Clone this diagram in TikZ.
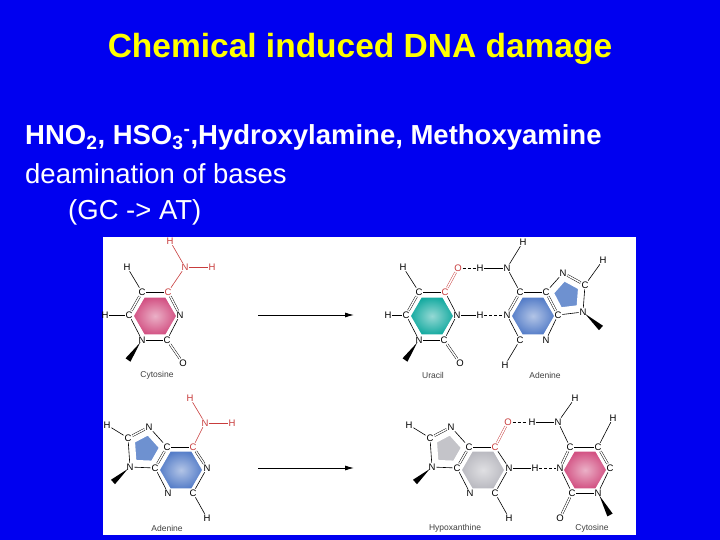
\documentclass[tikz,border=0pt]{standalone}
\usepackage{fontspec}
\setmainfont{Liberation Sans}
\usetikzlibrary{shapes.geometric,calc,arrows.meta}
\definecolor{slideblue}{RGB}{0,0,240}
\definecolor{ttl}{RGB}{255,255,0}
\definecolor{atomred}{RGB}{200,60,60}
\definecolor{cpink}{RGB}{210,80,130}
\definecolor{cteal}{RGB}{20,170,160}
\definecolor{cblue}{RGB}{85,125,200}
\definecolor{cgrey}{RGB}{185,185,192}
\tikzset{
 atom/.style={font=\fontsize{9.5}{10}\selectfont, inner sep=0.8pt, text=black},
 ratom/.style={atom, text=atomred},
 bond/.style={draw, line width=0.6pt},
 rbond/.style={bond, draw=atomred},
 dbl/.style={draw, double, double distance=1.5pt, line width=0.45pt},
 rdbl/.style={dbl, draw=atomred},
 hb/.style={draw, densely dashed, line width=0.5pt},
 hexfill/.style={regular polygon, regular polygon sides=6, minimum size=44pt, draw=white, line width=1.5pt, inner sep=0pt},
 lbl/.style={font=\fontsize{8.5}{9}\selectfont, text=black!75},
 rxn/.style={draw, line width=0.9pt, -{Latex[length=9pt,width=5pt]}},
}
\newcommand{\wedgeto}[2]{\fill ($(#1)!3pt!(#2)$) -- ($(#2)!3pt!90:(#1)$) -- ($(#2)!3pt!-90:(#1)$) -- cycle;}
\begin{document}
\begin{tikzpicture}[x=1pt,y=-1pt]
\fill[slideblue] (0,0) rectangle (720,540);
\useasboundingbox (0,0) rectangle (720,540);
\node[text=ttl, font=\fontsize{33.5}{36}\selectfont\bfseries] (title) at (360,49) {Chemical induced DNA damage};
\node[text=white, font=\fontsize{27.5}{30}\selectfont\bfseries, anchor=base west, inner sep=0] (l1) at (25,145) {HNO\textsubscript{2}, HSO\textsubscript{3}\textsuperscript{-},Hydroxylamine, Methoxyamine};
\node[text=white, font=\fontsize{27.5}{30}\selectfont, anchor=base west, inner sep=0] (l2) at (25,184) {deamination of bases};
\node[text=white, font=\fontsize{27.5}{30}\selectfont, anchor=base west, inner sep=0] (l3) at (68,220) {(GC -> AT)};
\fill[white] (103,237) rectangle (636,535);

% fills
\node[hexfill, inner color=cpink!45, outer color=cpink] (f1) at (155,316) {};
\node[hexfill, inner color=cteal!45, outer color=cteal] (f2) at (432,316) {};
\node[hexfill, inner color=cblue!45, outer color=cblue] (f3) at (533,316) {};
\node[hexfill, inner color=cblue!45, outer color=cblue] (f4) at (181,470) {};
\node[hexfill, inner color=cgrey!45, outer color=cgrey] (f5) at (483,470) {};
\node[hexfill, inner color=cpink!45, outer color=cpink] (f6) at (585,470) {};

% ===== Cytosine (top)
\node[atom] (c1) at (142,292) {C}; \node[ratom] (c2) at (168,292) {C};
\node[atom] (c3) at (180,315) {N}; \node[atom] (c4) at (167,340) {C};
\node[atom] (c5) at (142,340) {N}; \node[atom] (c6) at (129,315) {C};
\node[atom] (c6h) at (105,315) {H}; \node[atom] (c1h) at (127,267) {H};
\node[ratom] (cna) at (185,267) {N}; \node[ratom] (cha) at (212,267) {H};
\node[ratom] (chb) at (170,241) {H}; \node[atom] (co) at (183,363) {O};
\coordinate (cw) at (128,360);
\path[dbl] (c1)--(c6); \path[bond] (c1)--(c2); \path[dbl] (c2)--(c3);
\path[bond] (c3)--(c4); \path[bond] (c4)--(c5); \path[bond] (c5)--(c6);
\path[dbl] (c4)--(co); \path[bond] (c6)--(c6h); \path[bond] (c1)--(c1h);
\path[rbond] (c2)--(cna); \path[rbond] (cna)--(cha); \path[rbond] (cna)--(chb);
\wedgeto{c5}{cw}
\node[lbl] (lc) at (157,375) {Cytosine};

\coordinate (ar1a) at (258,315); \coordinate (ar1b) at (354,315);
\path[rxn] (ar1a)--(ar1b);

% ===== Uracil
\node[atom] (u1) at (419,292) {C}; \node[ratom] (u2) at (445,292) {C};
\node[atom] (u3) at (457,315) {N}; \node[atom] (u4) at (444,340) {C};
\node[atom] (u5) at (419,340) {N}; \node[atom] (u6) at (406,315) {C};
\node[atom] (u6h) at (388,315) {H}; \node[atom] (u1h) at (403,267) {H};
\node[ratom] (uo) at (458,268) {O}; \node[atom] (u3h) at (480,315) {H};
\node[atom] (uo2) at (460,363) {O};
\coordinate (uw) at (405,360);
\path[dbl] (u1)--(u6); \path[bond] (u1)--(u2); \path[rdbl] (u2)--(uo);
\path[bond] (u2)--(u3); \path[bond] (u3)--(u4); \path[bond] (u4)--(u5);
\path[bond] (u5)--(u6); \path[dbl] (u4)--(uo2); \path[bond] (u6)--(u6h);
\path[bond] (u1)--(u1h); \path[bond] (u3)--(u3h);
\wedgeto{u5}{uw}
\node[lbl] (lu) at (433,375) {Uracil};

% ===== Adenine (top)
\node[atom] (a1) at (507,315) {N}; \node[atom] (a2) at (520,292) {C};
\node[atom] (a3) at (546,292) {C}; \node[atom] (a4) at (558,315) {C};
\node[atom] (a5) at (546,340) {N}; \node[atom] (a6) at (520,340) {C};
\node[atom] (a6h) at (505,365) {H};
\node[atom] (ana) at (507,268) {N}; \node[atom] (aha) at (480,268) {H};
\node[atom] (ahb) at (523,242) {H};
\node[atom] (p1) at (563,273) {N}; \node[atom] (p2) at (585,285) {C};
\node[atom] (p3) at (583,312) {N}; \node[atom] (p2h) at (603,260) {H};
\coordinate (aw) at (601,328);
\fill[cblue!85, draw=white, line width=1.5pt] ($(567,295)!.65!(a3)$) -- ($(567,295)!.65!(p1)$) -- ($(567,295)!.65!(p2)$) -- ($(567,295)!.65!(p3)$) -- ($(567,295)!.65!(a4)$) -- cycle;
\path[dbl] (a1)--(a2); \path[bond] (a2)--(a3); \path[dbl] (a3)--(a4);
\path[bond] (a4)--(a5); \path[dbl] (a5)--(a6); \path[bond] (a6)--(a1);
\path[bond] (a6)--(a6h); \path[bond] (a2)--(ana); \path[bond] (ana)--(aha);
\path[bond] (ana)--(ahb); \path[bond] (a3)--(p1); \path[dbl] (p1)--(p2);
\path[bond] (p2)--(p3); \path[bond] (p3)--(a4); \path[bond] (p2)--(p2h);
\path[hb] (uo)--(aha); \path[hb] (u3h)--(a1);
\wedgeto{p3}{aw}
\node[lbl] (la) at (545,375) {Adenine};

% ===== Adenine (bottom)
\node[atom] (b1) at (167,447) {C}; \node[ratom] (b2) at (193,447) {C};
\node[atom] (b3) at (207,468) {N}; \node[atom] (b4) at (193,493) {C};
\node[atom] (b5) at (168,493) {N}; \node[atom] (b6) at (155,468) {C};
\node[atom] (q1) at (149,427) {N}; \node[atom] (q2) at (128,438) {C};
\node[atom] (q3) at (130,467) {N}; \node[atom] (q2h) at (107,425) {H};
\node[ratom] (bna) at (205,423) {N}; \node[ratom] (bha) at (232,423) {H};
\node[ratom] (bhb) at (190,398) {H}; \node[atom] (b4h) at (207,518) {H};
\coordinate (bw) at (113,482);
\fill[cblue!85, draw=white, line width=1.5pt] ($(146,449)!.65!(b1)$) -- ($(146,449)!.65!(q1)$) -- ($(146,449)!.65!(q2)$) -- ($(146,449)!.65!(q3)$) -- ($(146,449)!.65!(b6)$) -- cycle;
\path[bond] (b1)--(b2); \path[dbl] (b2)--(b3); \path[bond] (b3)--(b4);
\path[dbl] (b4)--(b5); \path[bond] (b5)--(b6); \path[dbl] (b6)--(b1);
\path[bond] (b1)--(q1); \path[dbl] (q1)--(q2); \path[bond] (q2)--(q3);
\path[bond] (q3)--(b6); \path[bond] (q2)--(q2h); \path[rbond] (b2)--(bna);
\path[rbond] (bna)--(bha); \path[rbond] (bna)--(bhb); \path[bond] (b4)--(b4h);
\wedgeto{q3}{bw}
\node[lbl] (lb) at (167,528) {Adenine};

\coordinate (ar2a) at (258,468); \coordinate (ar2b) at (354,468);
\path[rxn] (ar2a)--(ar2b);

% ===== Hypoxanthine
\node[atom] (h1) at (469,447) {C}; \node[ratom] (h2) at (495,447) {C};
\node[atom] (h3) at (509,468) {N}; \node[atom] (h4) at (495,493) {C};
\node[atom] (h5) at (470,493) {N}; \node[atom] (h6) at (457,468) {C};
\node[atom] (r1) at (451,427) {N}; \node[atom] (r2) at (430,438) {C};
\node[atom] (r3) at (432,467) {N}; \node[atom] (r2h) at (409,425) {H};
\node[ratom] (ho) at (508,422) {O}; \node[atom] (h4h) at (509,518) {H};
\node[atom] (h3h) at (535,468) {H};
\coordinate (hw) at (415,482);
\fill[cgrey!85, draw=white, line width=1.5pt] ($(448,449)!.65!(h1)$) -- ($(448,449)!.65!(r1)$) -- ($(448,449)!.65!(r2)$) -- ($(448,449)!.65!(r3)$) -- ($(448,449)!.65!(h6)$) -- cycle;
\path[bond] (h1)--(h2); \path[rdbl] (h2)--(ho); \path[bond] (h2)--(h3);
\path[bond] (h3)--(h4); \path[dbl] (h4)--(h5); \path[bond] (h5)--(h6);
\path[dbl] (h6)--(h1); \path[bond] (h1)--(r1); \path[dbl] (r1)--(r2);
\path[bond] (r2)--(r3); \path[bond] (r3)--(h6); \path[bond] (r2)--(r2h);
\path[bond] (h4)--(h4h); \path[bond] (h3)--(h3h);
\wedgeto{r3}{hw}
\node[lbl] (lh) at (455,528) {Hypoxanthine};

% ===== Cytosine (bottom)
\node[atom] (d1) at (560,468) {N}; \node[atom] (d2) at (570,447) {C};
\node[atom] (d3) at (598,447) {C}; \node[atom] (d4) at (610,468) {C};
\node[atom] (d5) at (598,493) {N}; \node[atom] (d6) at (572,493) {C};
\node[atom] (dna) at (558,422) {N}; \node[atom] (dha) at (532,422) {H};
\node[atom] (dhb) at (575,398) {H}; \node[atom] (d3h) at (613,418) {H};
\node[atom] (do) at (560,518) {O};
\coordinate (dw) at (610,515);
\path[dbl] (d1)--(d2); \path[bond] (d2)--(d3); \path[dbl] (d3)--(d4);
\path[bond] (d4)--(d5); \path[bond] (d5)--(d6); \path[bond] (d6)--(d1);
\path[dbl] (d6)--(do); \path[bond] (d2)--(dna); \path[bond] (dna)--(dha);
\path[bond] (dna)--(dhb); \path[bond] (d3)--(d3h);
\path[hb] (ho)--(dha); \path[hb] (h3h)--(d1);
\wedgeto{d5}{dw}
\node[lbl] (ld) at (592,528) {Cytosine};
\end{tikzpicture}
\end{document}
